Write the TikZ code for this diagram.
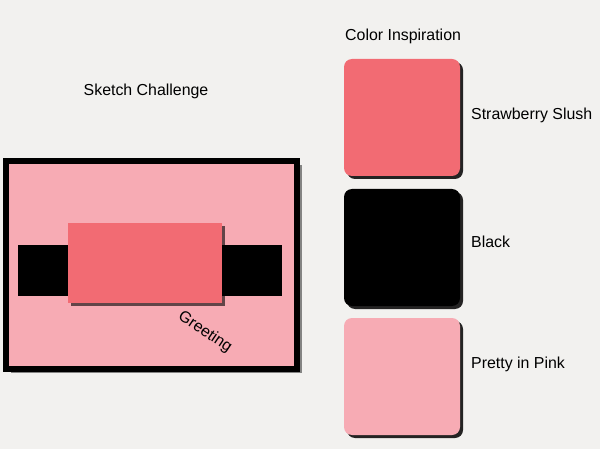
\documentclass[tikz,border=0pt]{standalone}
\usepackage{fontspec}
\setmainfont{Liberation Sans}
\usetikzlibrary{shadows}

\definecolor{bggray}{RGB}{242,241,239}
\definecolor{slush}{RGB}{242,107,115}
\definecolor{pinkish}{RGB}{247,171,180}

\begin{document}
\begin{tikzpicture}[x=1pt, y=-1pt,
    lbl/.style={anchor=base west, inner sep=0pt, font=\fontsize{15.9}{18}\selectfont},
    swatch/.style={rounded corners=8pt, minimum width=116pt, minimum height=117pt, inner sep=0pt,
      drop shadow={shadow xshift=3pt, shadow yshift=-3pt, opacity=0.85, fill=black}},
    plain/.style={inner sep=0pt, outer sep=0pt}]

      \fill[bggray] (0,0) rectangle (600,449);
      \useasboundingbox (0,0) rectangle (600,449);

      \node[lbl] (sketch) at (83.5,96) {Sketch Challenge};
      \node[lbl] (inspire) at (345,40.7) {Color Inspiration};

      \node[plain, draw=black, line width=6pt, fill=pinkish, minimum width=291pt, minimum height=207.5pt,
        drop shadow={shadow xshift=4.5pt, shadow yshift=-4.5pt, opacity=0.45, fill=black}] (card) at (151.5,264.75) {};
      \node[plain, fill=black, minimum width=264pt, minimum height=51pt] (band) at (150,270.5) {};
      \node[plain, fill=slush, minimum width=154pt, minimum height=80pt,
        drop shadow={shadow xshift=3pt, shadow yshift=-3pt, opacity=0.6, fill=black}] (panel) at (145,263) {};
      \node[lbl, anchor=center, rotate=-34] (greet) at (205,332) {Greeting};

      \node[swatch, fill=slush] (slushbox) at (402,117.5) {};
      \node[swatch, fill=black] (blackbox) at (402,247.5) {};
      \node[swatch, fill=pinkish] (pinkbox) at (402,376.5) {};

      \node[lbl] (slushtxt) at (471,120) {Strawberry Slush};
      \node[lbl] (blacktxt) at (471,248) {Black};
      \node[lbl] (pinktxt) at (471,368.7) {Pretty in Pink};

\end{tikzpicture}
\end{document}
